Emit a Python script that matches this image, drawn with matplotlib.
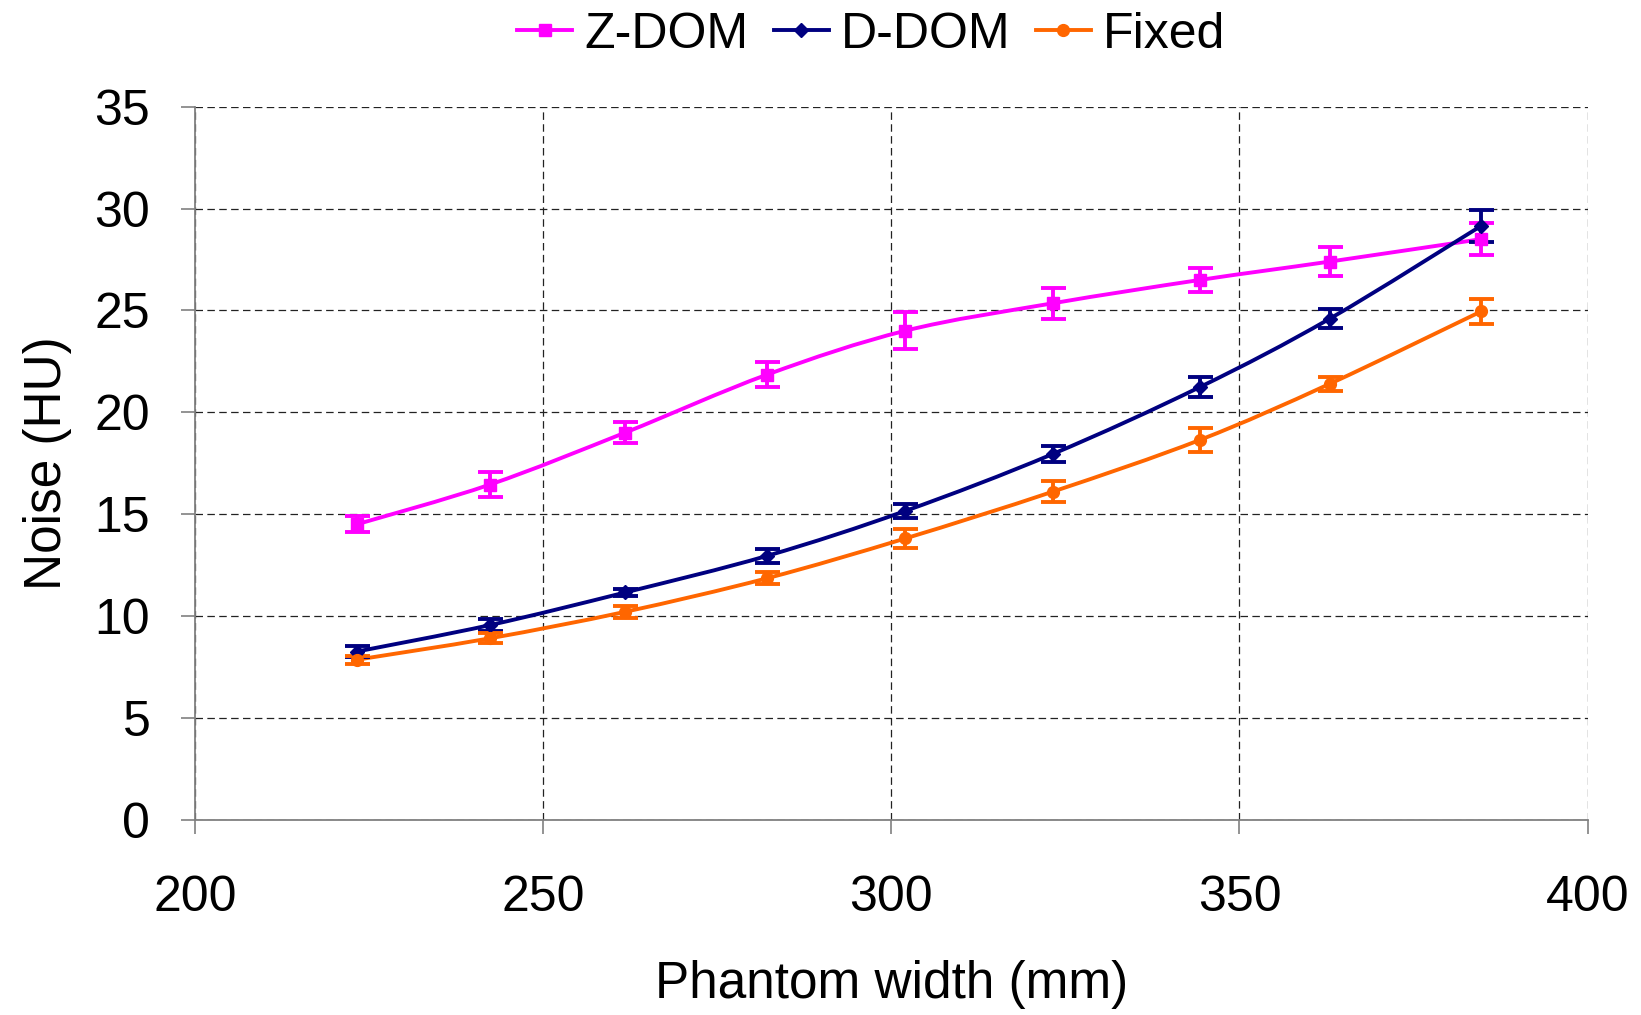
import numpy as np
import matplotlib
matplotlib.use("Agg")
import matplotlib.pyplot as plt
from matplotlib.path import Path
from matplotlib.patches import PathPatch

plt.rcParams['font.family'] = ['Liberation Sans', 'DejaVu Sans']

# phantom width (mm)
width = [223.3, 242.4, 261.8, 282.2, 302.0, 323.2, 344.4, 363.0, 384.7]

# noise (HU) and error bar half-widths
zdom = [14.5, 16.45, 19.0, 21.85, 24.0, 25.35, 26.5, 27.4, 28.5]
zdom_err = [0.4, 0.6, 0.5, 0.6, 0.9, 0.75, 0.6, 0.7, 0.8]
ddom = [8.25, 9.55, 11.15, 12.95, 15.15, 17.95, 21.25, 24.6, 29.15]
ddom_err = [0.25, 0.3, 0.15, 0.35, 0.35, 0.4, 0.5, 0.45, 0.8]
fixed = [7.85, 8.9, 10.2, 11.85, 13.8, 16.1, 18.65, 21.4, 24.95]
fixed_err = [0.2, 0.25, 0.3, 0.3, 0.45, 0.5, 0.6, 0.35, 0.6]

series = [
    ("Z-DOM", zdom, zdom_err, "#FF00FF", "s"),
    ("D-DOM", ddom, ddom_err, "#000080", "D"),
    ("Fixed", fixed, fixed_err, "#FF6600", "o"),
]


def smooth_path(x, y, t=1/6):
    # Excel-style smoothed line: bezier segments through the data points
    x = np.asarray(x, float)
    y = np.asarray(y, float)
    n = len(x)
    verts = [(x[0], y[0])]
    codes = [Path.MOVETO]
    for i in range(n - 1):
        x0, y0 = (x[i - 1], y[i - 1]) if i > 0 else (x[i], y[i])
        x3, y3 = (x[i + 2], y[i + 2]) if i + 2 < n else (x[i + 1], y[i + 1])
        c1 = (x[i] + (x[i + 1] - x0) * t, y[i] + (y[i + 1] - y0) * t)
        c2 = (x[i + 1] - (x3 - x[i]) * t, y[i + 1] - (y3 - y[i]) * t)
        verts += [c1, c2, (x[i + 1], y[i + 1])]
        codes += [Path.CURVE4] * 3
    return Path(verts, codes)


fig = plt.figure(figsize=(16.41, 10.15), dpi=100)
ax = fig.add_axes([0.1187, 0.1926, 0.8488, 0.7022])

lw = 2.8
handles = []
for name, vals, err, col, mk in series:
    ms = 8.5 if mk != "D" else 7
    ax.add_patch(PathPatch(smooth_path(width, vals), facecolor="none",
                           edgecolor=col, lw=lw, zorder=3))
    ax.errorbar(width, vals, yerr=err, fmt="none", ecolor=col,
                elinewidth=lw, capsize=9, capthick=lw, zorder=4)
    ax.plot(width, vals, ls="none", marker=mk, ms=ms, color=col, zorder=5)
    h, = ax.plot([], [], color=col, lw=lw, marker=mk, ms=ms, label=name)
    handles.append(h)

ax.set_xlim(200, 400)
ax.set_ylim(0, 35)
ax.set_xticks(np.arange(200, 401, 50))
ax.set_yticks(np.arange(0, 36, 5))
ax.grid(True, color="#222222", ls=(0, (6, 3.5)), lw=0.9)
for s in ["top", "right"]:
    ax.spines[s].set_visible(False)
for s in ["left", "bottom"]:
    ax.spines[s].set_color("#808080")
    ax.spines[s].set_linewidth(1.3)
ax.tick_params(axis="both", labelsize=36, length=10, width=1.2, color="#808080",
               direction="out")
ax.tick_params(axis="x", pad=30)
ax.tick_params(axis="y", pad=22)
ax.set_xlabel("Phantom width (mm)", fontsize=37, labelpad=28)
ax.set_ylabel("Noise (HU)", fontsize=37, labelpad=16)

fig.legend(handles=handles, loc="upper center", bbox_to_anchor=(0.531, 1.033),
           ncol=3, frameon=False, fontsize=36, handlelength=1.1,
           handletextpad=0.25, columnspacing=0.5)

fig.savefig("out.png", dpi=100)
